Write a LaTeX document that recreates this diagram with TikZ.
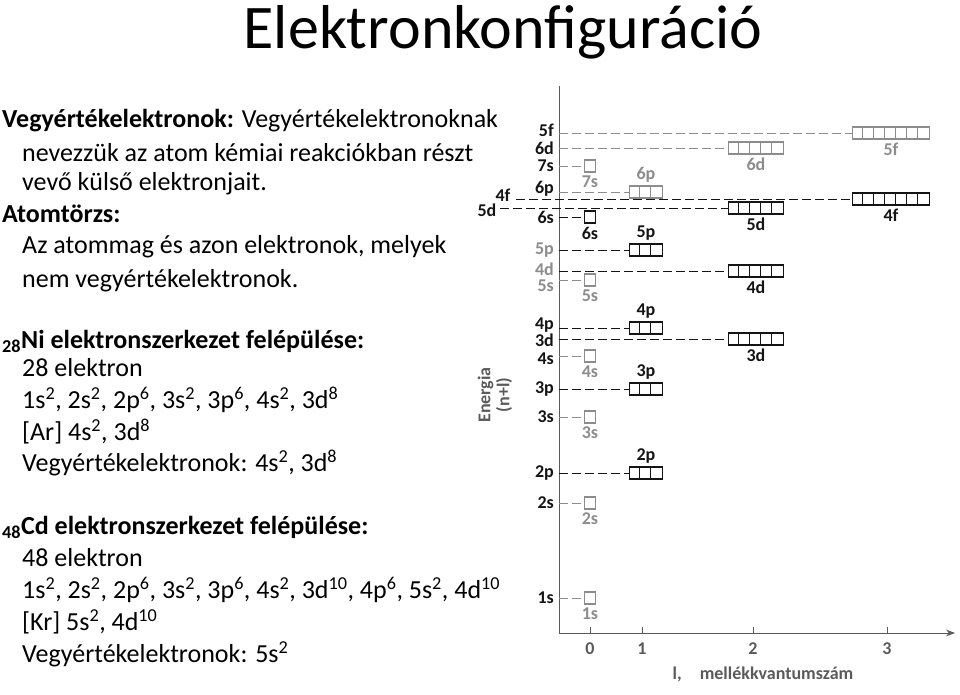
\documentclass[tikz,border=0pt]{standalone}
\usepackage{fontspec}
\setmainfont{Carlito}
\usetikzlibrary{positioning,arrows.meta}
\definecolor{inkblack}{RGB}{20,20,20}
\definecolor{fadegrey}{RGB}{140,140,140}
\definecolor{axisgrey}{RGB}{90,90,90}

\begin{document}
\begin{tikzpicture}[x=1pt,y=-1pt,
    txt/.style={anchor=west, font=\fontsize{26}{30}\selectfont, inner sep=0pt},
    lvl/.style={font=\fontsize{18}{18}\selectfont\bfseries, inner sep=0pt},
    cell/.style={rectangle, draw, line width=1.5pt, minimum height=12pt, inner sep=0pt},
    guide/.style={dash pattern=on 9pt off 4pt, line width=0.9pt}
]
    \useasboundingbox (0,0) rectangle (960,695);

    % Title
    \node[font=\fontsize{62}{66}\selectfont] (title) at (503,32) {Elektronkonfiguráció};

    % Left text
    \node[txt] (t1) at (2,121) {\textbf{Vegyértékelektronok:} Vegyértékelektronoknak};
    \node[txt] (t2) at (22,153) {nevezzük az atom kémiai reakciókban részt};
    \node[txt] (t3) at (22,184) {vevő külső elektronjait.};
    \node[txt] (t4) at (2,214) {\textbf{Atomtörzs:}};
    \node[txt] (t5) at (22,247) {Az atommag és azon elektronok, melyek};
    \node[txt] (t6) at (22,281) {nem vegyértékelektronok.};

    \node[txt] (ni1) at (2,341) {\textbf{\textsubscript{28}Ni elektronszerkezet felépülése:}};
    \node[txt] (ni2) at (22,368) {28 elektron};
    \node[txt] (ni3) at (22,400) {1s\textsuperscript{2}, 2s\textsuperscript{2}, 2p\textsuperscript{6}, 3s\textsuperscript{2}, 3p\textsuperscript{6}, 4s\textsuperscript{2}, 3d\textsuperscript{8}};
    \node[txt] (ni4) at (22,432) {[Ar] 4s\textsuperscript{2}, 3d\textsuperscript{8}};
    \node[txt] (ni5) at (22,463) {Vegyértékelektronok: 4s\textsuperscript{2}, 3d\textsuperscript{8}};

    \node[txt] (cd1) at (2,527) {\textbf{\textsubscript{48}Cd elektronszerkezet felépülése:}};
    \node[txt] (cd2) at (22,558) {48 elektron};
    \node[txt] (cd3) at (22,590) {1s\textsuperscript{2}, 2s\textsuperscript{2}, 2p\textsuperscript{6}, 3s\textsuperscript{2}, 3p\textsuperscript{6}, 4s\textsuperscript{2}, 3d\textsuperscript{10}, 4p\textsuperscript{6}, 5s\textsuperscript{2}, 4d\textsuperscript{10}};
    \node[txt] (cd4) at (22,622) {[Kr] 5s\textsuperscript{2}, 4d\textsuperscript{10}};
    \node[txt] (cd5) at (22,654) {Vegyértékelektronok: 5s\textsuperscript{2}};

    % Axes
    \coordinate (origin) at (559,633);
    \coordinate (ytop) at (559,86);
    \coordinate (xend) at (955,633);
    \draw[axisgrey, line width=1pt] (ytop) -- (origin);
    \draw[axisgrey, line width=1pt, -{Stealth[length=9pt]}] (origin) -- (xend);
    \foreach \lx/\ln in {590/0, 642/1, 753/2, 887/3} {
        \draw[axisgrey, line width=1pt] (\lx,627) -- (\lx,633);
        \node[lvl, axisgrey] (tick\ln) at (\lx,649) {\ln};
    }
    \node[lvl, axisgrey] (xlab) at (763,674) {l,\quad mellékkvantumszám};
    \node[lvl, axisgrey, rotate=90, align=center, font=\fontsize{18}{19}\selectfont\bfseries] (ylab) at (495,395) {Energia\\(n+l)};

    % Energy levels: y / label shift / box x / cells / name / axis colour / box colour / label side
    \foreach \ly/\dy/\bx/\nc/\nm/\ac/\bc/\side in {
        133/-3/891/7/5f/inkblack/fadegrey/below,
        148/0/756/5/6d/inkblack/fadegrey/below,
        166/0/590/1/7s/inkblack/fadegrey/below,
        192/-3/646/3/6p/inkblack/fadegrey/above,
        217/0/590/1/6s/inkblack/inkblack/below,
        250/0/646/3/5p/fadegrey/inkblack/above,
        271/-2/756/5/4d/fadegrey/inkblack/below,
        280/6/590/1/5s/fadegrey/fadegrey/below,
        328/-3/646/3/4p/inkblack/inkblack/above,
        339/1/756/5/3d/inkblack/inkblack/below,
        356/3/590/1/4s/inkblack/fadegrey/below,
        389/0/646/3/3p/inkblack/inkblack/above,
        417/0/590/1/3s/inkblack/fadegrey/below,
        473/0/646/3/2p/inkblack/inkblack/above,
        503/0/590/1/2s/inkblack/fadegrey/below,
        598/0/590/1/1s/inkblack/fadegrey/below} {
        \coordinate (ax\nm) at (559,\ly);
        \node[lvl, \ac, anchor=east] (al\nm) at (554,\ly+\dy) {\nm};
        \node[cell, \bc, minimum width=\nc*11pt] (box\nm) at (\bx,\ly) {};
        \foreach \k in {1,...,\nc} {
            \ifnum\k<\nc
                \draw[\bc, line width=1.3pt] ([xshift=\k*11pt]box\nm.north west) -- ([xshift=\k*11pt]box\nm.south west);
            \fi
        }
        \draw[guide, \bc] (ax\nm) -- (box\nm.west);
        \node[lvl, \bc, \side=3pt of box\nm] (bl\nm) {\nm};
    }

    % 4f and 5d reach past the axis
    \node[lvl, inkblack] (al4f) at (503,195) {4f};
    \node[lvl, inkblack] (al5d) at (487,210) {5d};
    \node[cell, inkblack, minimum width=77pt] (box4f) at (891,199) {};
    \foreach \k in {1,...,6}
        \draw[inkblack, line width=1.3pt] ([xshift=\k*11pt]box4f.north west) -- ([xshift=\k*11pt]box4f.south west);
    \node[lvl, inkblack, below=3pt of box4f] (bl4f) {4f};
    \node[cell, inkblack, minimum width=55pt] (box5d) at (756,208) {};
    \foreach \k in {1,...,4}
        \draw[inkblack, line width=1.3pt] ([xshift=\k*11pt]box5d.north west) -- ([xshift=\k*11pt]box5d.south west);
    \node[lvl, inkblack, below=3pt of box5d] (bl5d) {5d};
    \coordinate (st4f) at (516,199);
    \coordinate (st5d) at (500,208);
    \draw[guide, inkblack] (st4f) -- (box4f.west);
    \draw[guide, inkblack] (st5d) -- (box5d.west);
\end{tikzpicture}
\end{document}
